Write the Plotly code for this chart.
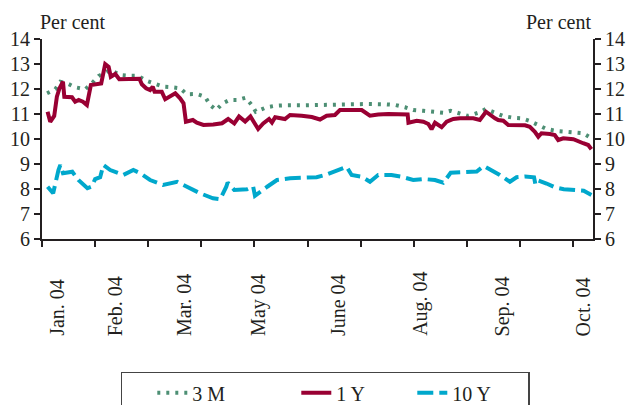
import plotly.graph_objects as go

# x = trading-day index from start of January 2004
x_3m = [1.9, 5.0, 6.9, 9.4, 12.5, 16.3, 18.8, 21.3, 25.7, 29.5, 32.6, 36.1, 39.2, 42.6, 45.8, 48.9,
        52.0, 54.5, 58.3, 61.4, 63.3, 65.6, 68.1, 70.6, 73.6, 76.7, 79.0, 80.5, 84.6, 87.8, 91.5,
        99.1, 105.3, 109.1, 116.6, 122.9, 129.2, 133.0, 136.7, 139.8, 143.6, 147.3, 151.1, 153.9,
        157.4, 160.5, 164.3, 167.2, 170.6, 173.7, 177.5, 180.6, 183.7, 186.9, 190.0, 193.8, 196.9,
        200.7, 203.8, 206.9]
y_3m = [11.83, 11.99, 12.29, 12.23, 12.07, 11.99, 12.23, 12.52, 12.76, 12.56, 12.53, 12.53, 12.33,
        12.19, 12.09, 12.07, 12.03, 11.79, 11.80, 11.69, 11.36, 11.16, 11.43, 11.56, 11.56, 11.65,
        11.36, 11.09, 11.27, 11.33, 11.35, 11.35, 11.36, 11.40, 11.40, 11.40, 11.39, 11.36, 11.27,
        11.16, 11.13, 11.09, 11.05, 11.13, 11.00, 10.92, 11.05, 11.20, 11.05, 10.92, 10.85, 10.83,
        10.72, 10.56, 10.40, 10.32, 10.29, 10.27, 10.23, 10.03]

x_1y = [2.1, 3.1, 4.6, 5.6, 6.6, 7.9, 8.4, 11.3, 12.5, 13.8, 15.4, 16.9, 18.4, 20.4, 22.3, 23.8,
        25.1, 25.9, 27.6, 29.1, 32.0, 34.8, 36.7, 37.6, 39.2, 40.7, 41.7, 42.4, 45.1, 46.4, 48.3,
        50.2, 52.0, 53.3, 54.2, 56.8, 58.3, 60.8, 64.5, 67.8, 70.1, 72.4, 74.2, 76.5, 78.5, 81.4,
        83.3, 85.5, 86.6, 87.8, 91.5, 93.4, 97.8, 101.6, 104.7, 107.2, 110.3, 112.2, 116.0, 120.4,
        123.5, 126.6, 130.4, 134.2, 137.7, 138.0, 141.1, 143.6, 145.5, 146.7, 148.0, 150.5, 152.4,
        154.9, 157.4, 162.4, 164.9, 167.2, 168.7, 170.6, 171.8, 173.7, 175.6, 178.7, 181.9, 183.7,
        185.6, 186.9, 188.1, 191.3, 193.1, 194.4, 196.3, 200.1, 201.9, 203.8, 205.7, 206.9]
y_1y = [11.09, 10.69, 10.92, 11.69, 12.03, 12.29, 11.69, 11.67, 11.49, 11.56, 11.49, 11.36, 12.16,
        12.20, 12.22, 13.00, 12.89, 12.49, 12.60, 12.39, 12.39, 12.41, 12.41, 12.19, 12.03, 11.96,
        12.09, 11.89, 11.89, 11.59, 11.69, 11.83, 11.63, 11.43, 10.69, 10.76, 10.65, 10.56, 10.58,
        10.63, 10.80, 10.62, 10.90, 10.70, 10.90, 10.40, 10.62, 10.80, 10.66, 10.87, 10.80, 10.96,
        10.93, 10.88, 10.78, 10.93, 10.96, 11.16, 11.16, 11.16, 10.93, 10.98, 11.00, 10.98, 10.98,
        10.65, 10.73, 10.69, 10.60, 10.39, 10.65, 10.47, 10.69, 10.80, 10.83, 10.83, 10.76, 11.09,
        10.96, 10.83, 10.76, 10.73, 10.56, 10.56, 10.55, 10.49, 10.29, 10.09, 10.23, 10.20, 10.16,
        9.96, 10.03, 9.99, 9.93, 9.83, 9.76, 9.59]

x_10y = [2.1, 4.2, 6.2, 6.9, 7.9, 11.4, 13.7, 17.1, 18.8, 20.0, 21.9, 22.7, 23.1, 25.7, 30.6, 34.4,
         37.0, 40.7, 45.6, 50.9, 54.7, 59.5, 64.4, 67.1, 69.4, 69.9, 72.4, 77.2, 79.5, 80.2, 84.8,
         88.5, 93.4, 99.1, 103.4, 106.6, 111.6, 114.7, 116.6, 120.4, 123.5, 126.6, 131.6, 135.4,
         139.8, 143.6, 148.0, 151.1, 153.9, 159.3, 163.7, 166.4, 169.3, 172.4, 176.2, 178.7, 181.9,
         185.3, 185.8, 186.6, 190.0, 193.1, 196.5, 201.5, 204.0, 206.9]
y_10y = [8.09, 7.83, 8.76, 8.96, 8.63, 8.69, 8.36, 8.03, 8.10, 8.40, 8.47, 8.89, 8.96, 8.76, 8.56,
         8.76, 8.63, 8.36, 8.16, 8.29, 8.09, 7.83, 7.63, 7.59, 8.09, 8.26, 7.96, 7.99, 8.10, 7.73,
         8.09, 8.36, 8.43, 8.43, 8.47, 8.56, 8.76, 8.89, 8.56, 8.49, 8.29, 8.56, 8.56, 8.49, 8.36,
         8.40, 8.36, 8.25, 8.65, 8.68, 8.70, 8.92, 8.76, 8.56, 8.29, 8.47, 8.50, 8.47, 8.20, 8.35,
         8.22, 8.07, 7.99, 7.96, 7.93, 7.76]

month_labels = ["Jan. 04", "Feb. 04", "Mar. 04", "May 04", "June 04", "Aug. 04", "Sep. 04", "Oct. 04"]
month_pos = [5.4, 27.6, 53.5, 81.3, 111.5, 142.3, 173.4, 203.7]

assert len(x_3m) == len(y_3m) and len(x_1y) == len(y_1y) and len(x_10y) == len(y_10y)

FONT = "Liberation Serif, Times New Roman, serif"
FS = 20
AX = "#231f20"

fig = go.Figure()
fig.add_trace(go.Scatter(x=x_3m, y=y_3m, mode="lines", name="3 M",
                         line=dict(color="#4d8f74", width=4, dash="3px,6px"), legendwidth=69))
fig.add_trace(go.Scatter(x=x_1y, y=y_1y, mode="lines", name="1 Y",
                         line=dict(color="#990033", width=4), legendwidth=41))
fig.add_trace(go.Scatter(x=x_10y, y=y_10y, mode="lines", name="10 Y",
                         line=dict(color="#00a8cc", width=4, dash="16px,6px"), legendwidth=71))
# invisible trace to drive the right-hand axis
fig.add_trace(go.Scatter(x=[x_1y[0]], y=[y_1y[0]], yaxis="y2", mode="lines",
                         showlegend=False, hoverinfo="skip", line=dict(width=0)))

for lab, pos in zip(month_labels, month_pos):
    fig.add_annotation(x=pos, y=-0.495, xref="x", yref="paper", text=lab, textangle=-90,
                       showarrow=False, xanchor="center", yanchor="bottom",
                       font=dict(family=FONT, size=FS, color=AX))

fig.add_annotation(x=-0.008, y=1.085, xref="paper", yref="paper", text="Per cent", showarrow=False,
                   xanchor="left", yanchor="middle", font=dict(family=FONT, size=FS, color=AX))
fig.add_annotation(x=1.0, y=1.085, xref="paper", yref="paper", text="Per cent", showarrow=False,
                   xanchor="right", yanchor="middle", font=dict(family=FONT, size=FS, color=AX))

fig.update_layout(
    width=630, height=405,
    margin=dict(l=42, r=37, t=39, b=166, autoexpand=False),
    paper_bgcolor="white", plot_bgcolor="white",
    font=dict(family=FONT, size=FS, color=AX),
    xaxis=dict(range=[0, 207.5], tickmode="linear", tick0=0, dtick=20, ticks="outside",
               ticklen=6, tickwidth=2, tickcolor=AX, showticklabels=False, showgrid=False,
               zeroline=False, showline=True, linecolor=AX, linewidth=2),
    yaxis=dict(range=[6, 14], tickmode="linear", tick0=6, dtick=1, ticks="outside", ticklen=6,
               tickwidth=2, tickcolor=AX, showgrid=False, zeroline=False, showline=True,
               linecolor=AX, linewidth=2, tickfont=dict(family=FONT, size=FS, color=AX)),
    yaxis2=dict(range=[6, 14], tickmode="linear", tick0=6, dtick=1, ticks="outside", ticklen=6,
                tickwidth=2, tickcolor=AX, showgrid=False, zeroline=False, showline=True,
                linecolor=AX, linewidth=2, overlaying="y", side="right",
                tickfont=dict(family=FONT, size=FS, color=AX)),
    showlegend=True,
    legend=dict(orientation="h", x=0.143, y=-0.6635, xanchor="left", yanchor="top",
                bordercolor="#444444", borderwidth=1.5, bgcolor="white", indentation=30,
                font=dict(family=FONT, size=FS, color=AX)),
)

fig.write_html("out.html", config={"displayModeBar": False},
               post_script="document.body.style.margin='0';document.body.style.overflow='hidden';")
